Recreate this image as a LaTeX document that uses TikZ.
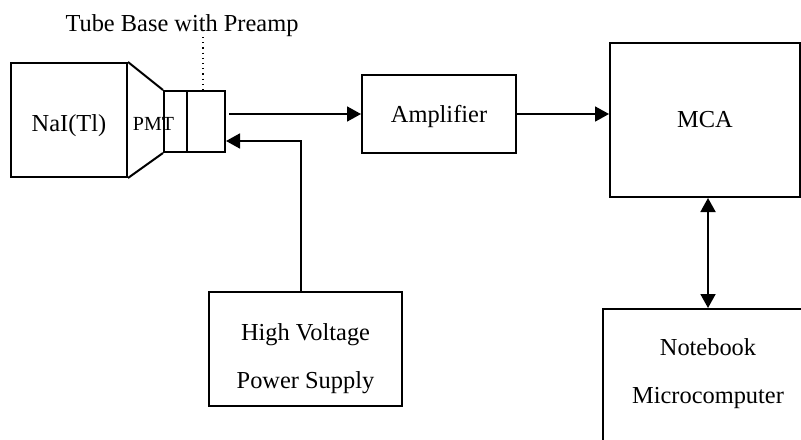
\documentclass[tikz,border=0pt]{standalone}
\usepackage{fontspec}
\setmainfont{Liberation Serif}
\usepackage{tikz}
\usetikzlibrary{arrows.meta, positioning, calc}
\tikzset{
  module/.style={rectangle, draw=black, line width=1pt, anchor=north west,
    font=\fontsize{12.2}{24}\selectfont, align=center, inner sep=0pt},
  signal/.style={-{Triangle[length=7pt, width=7.5pt]}, line width=0.9pt},
  bisignal/.style={{Triangle[length=7pt, width=7.5pt]}-{Triangle[length=7pt, width=7.5pt]}, line width=0.9pt},
  legende/.style={font=\fontsize{12.2}{14}\selectfont, inner sep=0pt, anchor=base},
  repere/.style={dotted, line width=0.6pt}
}
\begin{document}
\begin{tikzpicture}[x=0.5pt, y=-0.5pt]
    \useasboundingbox (0,0) rectangle (801,439);
    \clip (0,0) rectangle (801,439);

    % detector head
    \node[module, minimum width=58pt, text height=34pt, text depth=23pt] (nai) at (10,62) {NaI(Tl)};
    \node[module, minimum width=11.5pt, minimum height=30.5pt] (pmt) at (163,90) {};
    \node[module, minimum width=19pt, minimum height=30.5pt] (preamp) at (186,90) {};
    \draw[line width=1pt] (nai.north east) -- (pmt.north west);
    \draw[line width=1pt] (nai.south east) -- (pmt.south west);
    \node[legende, font=\fontsize{10}{12}\selectfont] (pmtlbl) at (153.5,130) {PMT};

    \node[legende] (base) at (182,32) {Tube Base with Preamp};
    \coordinate (tick) at (203,37);
    \draw[repere] (tick) -- (tick |- preamp.north);

    % signal chain
    \node[module, minimum width=77pt, text height=23.5pt, text depth=15.5pt] (amp) at (361,74) {Amplifier};
    \node[module, minimum width=95pt, text height=42pt, text depth=35pt] (mca) at (609,42) {MCA};
    \node[module, minimum width=96.5pt, text height=48pt, text depth=9pt] (hv) at (208,291) {High Voltage\\Power Supply};
    \node[module, minimum width=105pt, text height=47pt, text depth=70pt] (nb) at (602,308) {Notebook\\Microcomputer};

    \draw[signal] ($(preamp.east |- amp.west)+(3,0)$) -- (amp.west);
    \draw[signal] (amp.east) -- (amp.east -| mca.west);
    \draw[signal] ($(hv.north)+(-4.5,0)$) |- ($(preamp.east)+(0,19.5)$);
    \draw[bisignal] (nb.north |- mca.south) -- (nb.north);
\end{tikzpicture}
\end{document}
